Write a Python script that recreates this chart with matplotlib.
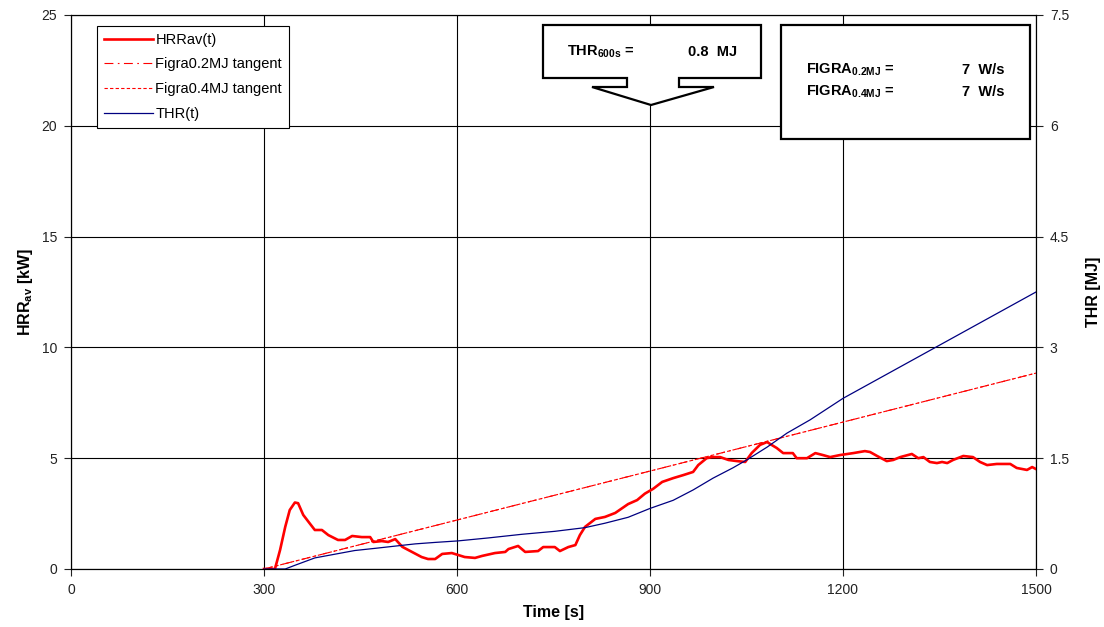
import matplotlib
matplotlib.use("Agg")
import matplotlib.pyplot as plt
from matplotlib.patches import Polygon, Rectangle

plt.rcParams['font.family'] = ['Liberation Sans', 'DejaVu Sans']
plt.rcParams['mathtext.default'] = 'regular'

W, H = 1104, 627

# HRRav(t) [kW]
hrr_t = [300, 317, 325, 333, 340, 348, 353, 361, 371, 379, 390, 400, 415, 426, 437,
         452, 465, 470, 483, 493, 504, 515, 530, 545, 555, 566, 577, 592, 602, 612,
         628, 639, 659, 675, 680, 695, 706, 726, 734, 752, 760, 773, 784, 791, 799,
         815, 830, 846, 857, 866, 880, 892, 905, 919, 936, 952, 967, 975, 988, 996,
         1009, 1022, 1035, 1048, 1058, 1071, 1082, 1089, 1097, 1107, 1122, 1128, 1144,
         1157, 1169, 1180, 1195, 1216, 1234, 1242, 1253, 1268, 1278, 1289, 1307, 1317,
         1325, 1335, 1346, 1354, 1362, 1371, 1387, 1402, 1413, 1424, 1439, 1460, 1470,
         1486, 1494, 1500]
hrr_kw = [0, 0, 0.86, 1.9, 2.66, 3.0, 2.97, 2.44, 2.06, 1.76, 1.76, 1.53, 1.31, 1.31, 1.49,
          1.44, 1.44, 1.22, 1.26, 1.22, 1.35, 1.0, 0.77, 0.54, 0.45, 0.45, 0.68, 0.72, 0.63, 0.54,
          0.5, 0.59, 0.72, 0.77, 0.9, 1.04, 0.77, 0.81, 0.99, 0.99, 0.81, 0.99, 1.08, 1.53, 1.9,
          2.26, 2.35, 2.53, 2.75, 2.93, 3.11, 3.4, 3.62, 3.93, 4.1, 4.24, 4.38, 4.69, 5.0, 5.05,
          5.05, 4.92, 4.87, 4.83, 5.23, 5.6, 5.73, 5.6, 5.46, 5.23, 5.23, 5.0, 5.0,
          5.23, 5.14, 5.05, 5.14, 5.23, 5.32, 5.28, 5.1, 4.87, 4.92, 5.05, 5.19, 5.0,
          5.05, 4.83, 4.78, 4.83, 4.78, 4.92, 5.1, 5.05, 4.83, 4.69, 4.74, 4.74, 4.56,
          4.47, 4.6, 4.51]

# THR(t) [MJ]
thr_t = [300, 333, 348, 379, 410, 441, 473, 504, 535, 566, 601, 648, 701, 752, 799, 830,
         866, 900, 936, 967, 998, 1029, 1051, 1082, 1113, 1149, 1200, 1250, 1300, 1350,
         1400, 1450, 1500]
thr_mj = [0, 0, 0.05, 0.15, 0.20, 0.25, 0.28, 0.31, 0.34, 0.36, 0.38, 0.42, 0.47, 0.51, 0.56,
          0.62, 0.70, 0.82, 0.93, 1.07, 1.23, 1.37, 1.48, 1.65, 1.84, 2.02, 2.31, 2.55, 2.79,
          3.03, 3.27, 3.51, 3.75]

# FIGRA tangents [kW]
tan_t = [300, 1500]
figra02_kw = [0, 8.84]
figra04_kw = [0, 8.84]

x_ticks = [0, 300, 600, 900, 1200, 1500]
hrr_ticks = [0, 5, 10, 15, 20, 25]
thr_ticks = [0, 1.5, 3, 4.5, 6, 7.5]
thr_tick_labels = ['0', '1.5', '3', '4.5', '6', '7.5']


def fpos(x, y):
    # pixel (from top-left) -> figure fraction
    return (x / W, 1 - y / H)


fig = plt.figure(figsize=(W / 100, H / 100), dpi=100)
ax = fig.add_axes([71 / W, 1 - 569 / H, 965 / W, 554 / H])
ax2 = ax.twinx()

l1, = ax.plot(hrr_t, hrr_kw, color='#FF0000', lw=1.9, label='HRRav(t)', zorder=3)
l2, = ax.plot(tan_t, figra02_kw, color='#FF0000', lw=0.8, ls=(0, (8, 4, 1.5, 4)),
              label='Figra0.2MJ tangent', zorder=2)
l3, = ax.plot(tan_t, figra04_kw, color='#FF0000', lw=0.8, ls=(0, (3, 2)),
              label='Figra0.4MJ tangent', zorder=2)
l4, = ax2.plot(thr_t, thr_mj, color='#000080', lw=0.9, label='THR(t)')

ax.set_xlim(0, 1500)
ax.set_ylim(0, 25)
ax2.set_ylim(0, 7.5)
ax.set_xticks(x_ticks)
ax.set_yticks(hrr_ticks)
ax2.set_yticks(thr_ticks)
ax2.set_yticklabels(thr_tick_labels)

ax.grid(True, color='black', lw=0.8)
ax.set_axisbelow(True)
for a in (ax, ax2):
    for s in a.spines.values():
        s.set_linewidth(0.8)
ax.tick_params(direction='out', length=5, width=0.8, labelsize=10, pad=5, colors='#222222')
ax2.tick_params(direction='out', length=5, width=0.8, labelsize=10, pad=5, colors='#222222')

ax.set_xlabel('Time [s]', fontsize=11.5, fontweight='bold', labelpad=6)
ax.set_ylabel('HRR$_{av}$ [kW]', fontsize=11.5, fontweight='bold', labelpad=5)
ax2.set_ylabel('THR [MJ]', fontsize=11.5, fontweight='bold', labelpad=12)

leg = ax2.legend(handles=[l1, l2, l3, l4], loc='upper left', bbox_to_anchor=(0.027, 0.98),
                 borderaxespad=0, fontsize=10.5, handlelength=3.4, handletextpad=0.15,
                 labelspacing=0.74, borderpad=0.45, fancybox=False, framealpha=1,
                 edgecolor='black')
leg.get_frame().set_linewidth(0.8)

# THR600s callout box with arrow down to t = 900 s
callout = [(543, 25), (761, 25), (761, 78), (679, 78), (679, 87), (714, 87), (651, 105),
           (592, 87), (627, 87), (627, 78), (543, 78)]
fig.add_artist(Polygon([fpos(x, y) for x, y in callout], closed=True, transform=fig.transFigure,
                       facecolor='white', edgecolor='black', lw=1.6, zorder=5))
fig.text(*fpos(567, 52), 'THR$_{600s}$ =', ha='left', va='center', fontsize=10.5,
         fontweight='bold', zorder=6)
fig.text(*fpos(688, 52), '0.8  MJ', ha='left', va='center', fontsize=10.5,
         fontweight='bold', zorder=6)

# FIGRA box
x0, y0 = fpos(781, 139)
x1, y1 = fpos(1030, 25)
fig.add_artist(Rectangle((x0, y0), x1 - x0, y1 - y0, transform=fig.transFigure,
                         facecolor='white', edgecolor='black', lw=1.6, zorder=5))
fig.text(*fpos(806, 70), 'FIGRA$_{0.2MJ}$ =', ha='left', va='center', fontsize=10.5,
         fontweight='bold', zorder=6)
fig.text(*fpos(806, 92), 'FIGRA$_{0.4MJ}$ =', ha='left', va='center', fontsize=10.5,
         fontweight='bold', zorder=6)
fig.text(*fpos(1005, 70), '7  W/s', ha='right', va='center', fontsize=10.5,
         fontweight='bold', zorder=6)
fig.text(*fpos(1005, 92), '7  W/s', ha='right', va='center', fontsize=10.5,
         fontweight='bold', zorder=6)

fig.savefig('out.png', dpi=100)
